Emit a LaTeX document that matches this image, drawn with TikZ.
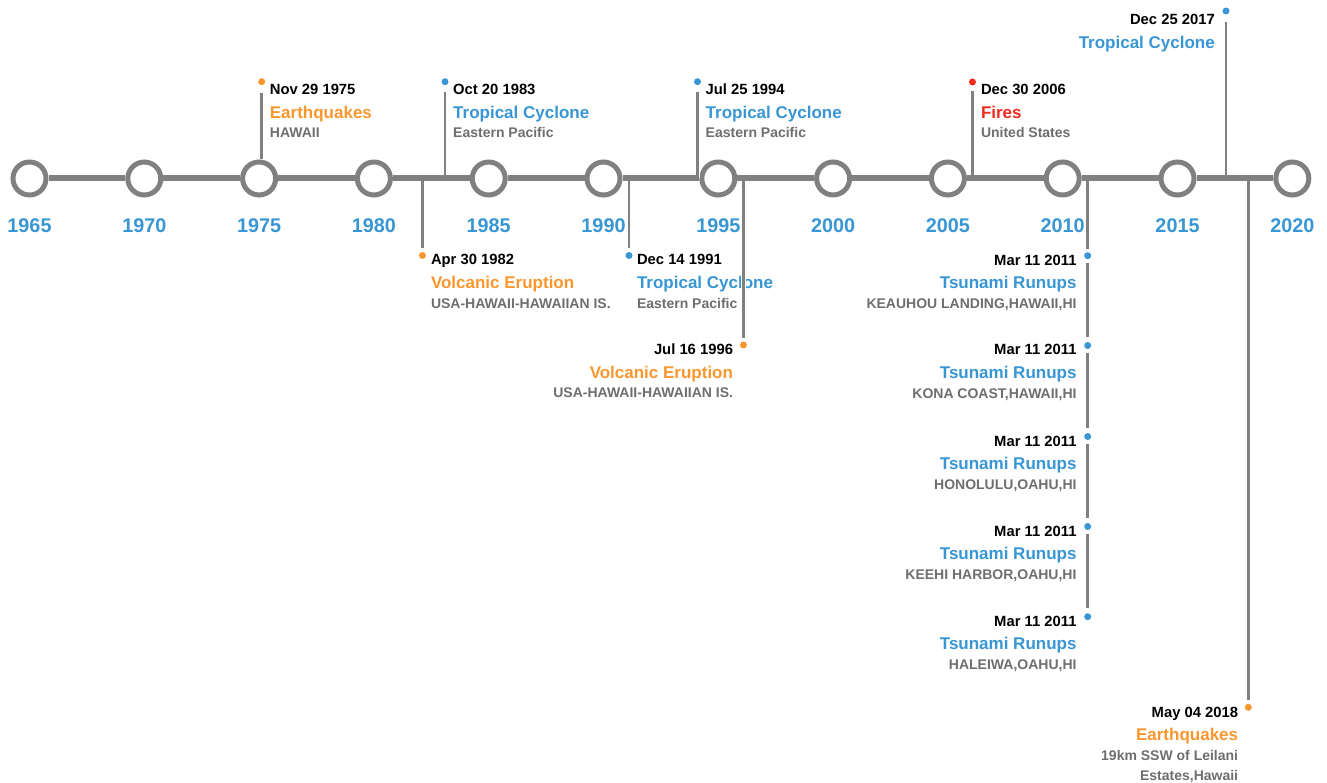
\documentclass[tikz,border=0pt]{standalone}
\usepackage{fontspec}
\setmainfont{Liberation Sans}
\usepackage{xcolor}
\usetikzlibrary{positioning}

\definecolor{lineGray}{HTML}{808080}
\definecolor{placeGray}{HTML}{6E6E6E}
\definecolor{cycloneBlue}{HTML}{3796D3}
\definecolor{quakeOrange}{HTML}{F9962E}
\definecolor{fireRed}{HTML}{F02A1E}

\begin{document}
\begin{tikzpicture}[x=1pt, y=-1pt, font=\bfseries,
	ring/.style={circle, draw=lineGray, fill=white, line width=5pt, minimum size=33pt, inner sep=0pt},
	year/.style={inner sep=0pt, text=cycloneBlue, font=\bfseries\fontsize{19.8}{22}\selectfont},
	evdot/.style={circle, fill=#1, minimum size=7pt, inner sep=0pt, outer sep=0pt},
	date/.style={inner sep=0pt, font=\bfseries\fontsize{14.8}{17}\selectfont},
	kind/.style={inner sep=0pt, text=#1, font=\bfseries\fontsize{17}{20}\selectfont},
	place/.style={inner sep=0pt, text=placeGray, font=\bfseries\fontsize{14}{16}\selectfont},
	stem/.style={draw=lineGray, line width=2.5pt, preaction={draw=white, line width=4.5pt}},
	axisline/.style={draw=lineGray, line width=6pt}]
		\useasboundingbox (0,0) rectangle (1327,783);

		% year rings
		\node[ring] (c1965) at (29.5,178.5) {};
		\node[year, below=21.3pt of c1965] (y1965) {1965};
		\node[ring, right=76.8pt of c1965] (c1970) {};
		\node[year, below=21.3pt of c1970] (y1970) {1970};
		\node[ring, right=76.8pt of c1970] (c1975) {};
		\node[year, below=21.3pt of c1975] (y1975) {1975};
		\node[ring, right=76.8pt of c1975] (c1980) {};
		\node[year, below=21.3pt of c1980] (y1980) {1980};
		\node[ring, right=76.8pt of c1980] (c1985) {};
		\node[year, below=21.3pt of c1985] (y1985) {1985};
		\node[ring, right=76.8pt of c1985] (c1990) {};
		\node[year, below=21.3pt of c1990] (y1990) {1990};
		\node[ring, right=76.8pt of c1990] (c1995) {};
		\node[year, below=21.3pt of c1995] (y1995) {1995};
		\node[ring, right=76.8pt of c1995] (c2000) {};
		\node[year, below=21.3pt of c2000] (y2000) {2000};
		\node[ring, right=76.8pt of c2000] (c2005) {};
		\node[year, below=21.3pt of c2005] (y2005) {2005};
		\node[ring, right=76.8pt of c2005] (c2010) {};
		\node[year, below=21.3pt of c2010] (y2010) {2010};
		\node[ring, right=76.8pt of c2010] (c2015) {};
		\node[year, below=21.3pt of c2015] (y2015) {2015};
		\node[ring, right=76.8pt of c2015] (c2020) {};
		\node[year, below=21.3pt of c2020] (y2020) {2020};

		% events above the axis
		\node[evdot=quakeOrange] (p1975) at (261.7,81.7) {};
		\node[date, anchor=base west] (d1975) at ([shift={(8,13.3)}]p1975.center) {Nov 29 1975};
		\node[kind=quakeOrange, anchor=base west] (k1975) at ([shift={(0,23.3)}]d1975.base west) {Earthquakes};
		\node[place, anchor=base west] (l1975) at ([shift={(0,19.4)}]k1975.base west) {HAWAII};

		\node[evdot=cycloneBlue] (p1983) at (445,81.7) {};
		\node[date, anchor=base west] (d1983) at ([shift={(8,13.3)}]p1983.center) {Oct 20 1983};
		\node[kind=cycloneBlue, anchor=base west] (k1983) at ([shift={(0,23.3)}]d1983.base west) {Tropical Cyclone};
		\node[place, anchor=base west] (l1983) at ([shift={(0,19.4)}]k1983.base west) {Eastern Pacific};

		\node[evdot=cycloneBlue] (p1994) at (697.5,81.7) {};
		\node[date, anchor=base west] (d1994) at ([shift={(8,13.3)}]p1994.center) {Jul 25 1994};
		\node[kind=cycloneBlue, anchor=base west] (k1994) at ([shift={(0,23.3)}]d1994.base west) {Tropical Cyclone};
		\node[place, anchor=base west] (l1994) at ([shift={(0,19.4)}]k1994.base west) {Eastern Pacific};

		\node[evdot=fireRed] (p2006) at (972.5,82) {};
		\node[date, anchor=base west] (d2006) at ([shift={(8.3,13)}]p2006.center) {Dec 30 2006};
		\node[kind=fireRed, anchor=base west] (k2006) at ([shift={(0,23.3)}]d2006.base west) {Fires};
		\node[place, anchor=base west] (l2006) at ([shift={(0,19.4)}]k2006.base west) {United States};

		\node[evdot=cycloneBlue] (p2017) at (1226,11) {};
		\node[date, anchor=base east] (d2017) at ([shift={(-11,14)}]p2017.center) {Dec 25 2017};
		\node[kind=cycloneBlue, anchor=base east] (k2017) at ([shift={(0,23.3)}]d2017.base east) {Tropical Cyclone};

		% events below the axis
		\node[evdot=quakeOrange] (p1982) at (422.5,255.5) {};
		\node[date, anchor=base west] (d1982) at ([shift={(8.3,9.5)}]p1982.center) {Apr 30 1982};
		\node[kind=quakeOrange, anchor=base west] (k1982) at ([shift={(0,23.3)}]d1982.base west) {Volcanic Eruption};
		\node[place, anchor=base west] (l1982) at ([shift={(0,19.8)}]k1982.base west) {USA-HAWAII-HAWAIIAN IS.};

		\node[evdot=cycloneBlue] (p1991) at (629,255.5) {};
		\node[date, anchor=base west] (d1991) at ([shift={(7.8,9.5)}]p1991.center) {Dec 14 1991};
		\node[kind=cycloneBlue, anchor=base west] (k1991) at ([shift={(0,23.3)}]d1991.base west) {Tropical Cyclone};
		\node[place, anchor=base west] (l1991) at ([shift={(0,19.8)}]k1991.base west) {Eastern Pacific};

		\node[evdot=quakeOrange] (p1996) at (743.5,345) {};
		\node[date, anchor=base east] (d1996) at ([shift={(-10.3,10)}]p1996.center) {Jul 16 1996};
		\node[kind=quakeOrange, anchor=base east] (k1996) at ([shift={(0,23.3)}]d1996.base east) {Volcanic Eruption};
		\node[place, anchor=base east] (l1996) at ([shift={(0,19.6)}]k1996.base east) {USA-HAWAII-HAWAIIAN IS.};

		\node[evdot=cycloneBlue] (p2011a) at (1087.7,255.7) {};
		\node[date, anchor=base east] (d2011a) at ([shift={(-11,9.5)}]p2011a.center) {Mar 11 2011};
		\node[kind=cycloneBlue, anchor=base east] (k2011a) at ([shift={(0,23.3)}]d2011a.base east) {Tsunami Runups};
		\node[place, anchor=base east] (l2011a) at ([shift={(0,19.8)}]k2011a.base east) {KEAUHOU LANDING,HAWAII,HI};

		\node[evdot=cycloneBlue] (p2011b) at (1087.7,345.5) {};
		\node[date, anchor=base east] (d2011b) at ([shift={(-11,9.5)}]p2011b.center) {Mar 11 2011};
		\node[kind=cycloneBlue, anchor=base east] (k2011b) at ([shift={(0,23.3)}]d2011b.base east) {Tsunami Runups};
		\node[place, anchor=base east] (l2011b) at ([shift={(0,19.8)}]k2011b.base east) {KONA COAST,HAWAII,HI};

		\node[evdot=cycloneBlue] (p2011c) at (1087.7,436.5) {};
		\node[date, anchor=base east] (d2011c) at ([shift={(-11,9.5)}]p2011c.center) {Mar 11 2011};
		\node[kind=cycloneBlue, anchor=base east] (k2011c) at ([shift={(0,23.3)}]d2011c.base east) {Tsunami Runups};
		\node[place, anchor=base east] (l2011c) at ([shift={(0,19.8)}]k2011c.base east) {HONOLULU,OAHU,HI};

		\node[evdot=cycloneBlue] (p2011d) at (1087.7,526.5) {};
		\node[date, anchor=base east] (d2011d) at ([shift={(-11,9.5)}]p2011d.center) {Mar 11 2011};
		\node[kind=cycloneBlue, anchor=base east] (k2011d) at ([shift={(0,23.3)}]d2011d.base east) {Tsunami Runups};
		\node[place, anchor=base east] (l2011d) at ([shift={(0,19.8)}]k2011d.base east) {KEEHI HARBOR,OAHU,HI};

		\node[evdot=cycloneBlue] (p2011e) at (1087.7,616.7) {};
		\node[date, anchor=base east] (d2011e) at ([shift={(-11,9.5)}]p2011e.center) {Mar 11 2011};
		\node[kind=cycloneBlue, anchor=base east] (k2011e) at ([shift={(0,23.3)}]d2011e.base east) {Tsunami Runups};
		\node[place, anchor=base east] (l2011e) at ([shift={(0,19.8)}]k2011e.base east) {HALEIWA,OAHU,HI};

		\node[evdot=quakeOrange] (p2018) at (1248.3,707.3) {};
		\node[date, anchor=base east] (d2018) at ([shift={(-10,9.7)}]p2018.center) {May 04 2018};
		\node[kind=quakeOrange, anchor=base east] (k2018) at ([shift={(0,23.3)}]d2018.base east) {Earthquakes};
		\node[place, anchor=base east] (l2018a) at ([shift={(0,20)}]k2018.base east) {19km SSW of Leilani};
		\node[place, anchor=base east] (l2018b) at ([shift={(0,20)}]l2018a.base east) {Estates,Hawaii};

		% stems
		\draw[stem, shorten <=7.5pt] (p1975) -- (p1975 |- c1975.north);
		\draw[stem, shorten <=6.5pt] (p1983) -- (p1983 |- c1965);
		\draw[stem, shorten <=6.5pt] (p1994) -- (p1994 |- c1965);
		\draw[stem, shorten <=5.5pt] (p2006) -- (p2006 |- c1965);
		\draw[stem, shorten <=7.5pt] (p2017) -- (p2017 |- c1965);
		\draw[stem, shorten >=3.5pt] (p1982 |- c1965) -- (p1982);
		\draw[stem, shorten >=3.5pt] (p1991 |- c1965) -- (p1991);
		\draw[stem, shorten >=3.5pt] (p1996 |- c1965) -- (p1996);
		\draw[stem, shorten >=3.5pt] (p2011a |- c1965) -- (p2011a);
		\draw[stem, shorten <=3.5pt, shorten >=5pt] (p2011a) -- (p2011b);
		\draw[stem, shorten <=3.5pt, shorten >=5pt] (p2011b) -- (p2011c);
		\draw[stem, shorten <=3.5pt, shorten >=5pt] (p2011c) -- (p2011d);
		\draw[stem, shorten <=3.5pt, shorten >=5pt] (p2011d) -- (p2011e);
		\draw[stem, shorten >=3.5pt] (p2018 |- c1965) -- (p2018);

		% axis
		\draw[axisline] (c1965) -- (c1970) (c1970) -- (c1975) (c1975) -- (c1980) (c1980) -- (c1985)
			(c1985) -- (c1990) (c1990) -- (c1995) (c1995) -- (c2000) (c2000) -- (c2005)
			(c2005) -- (c2010) (c2010) -- (c2015) (c2015) -- (c2020);
	\end{tikzpicture}
\end{document}
